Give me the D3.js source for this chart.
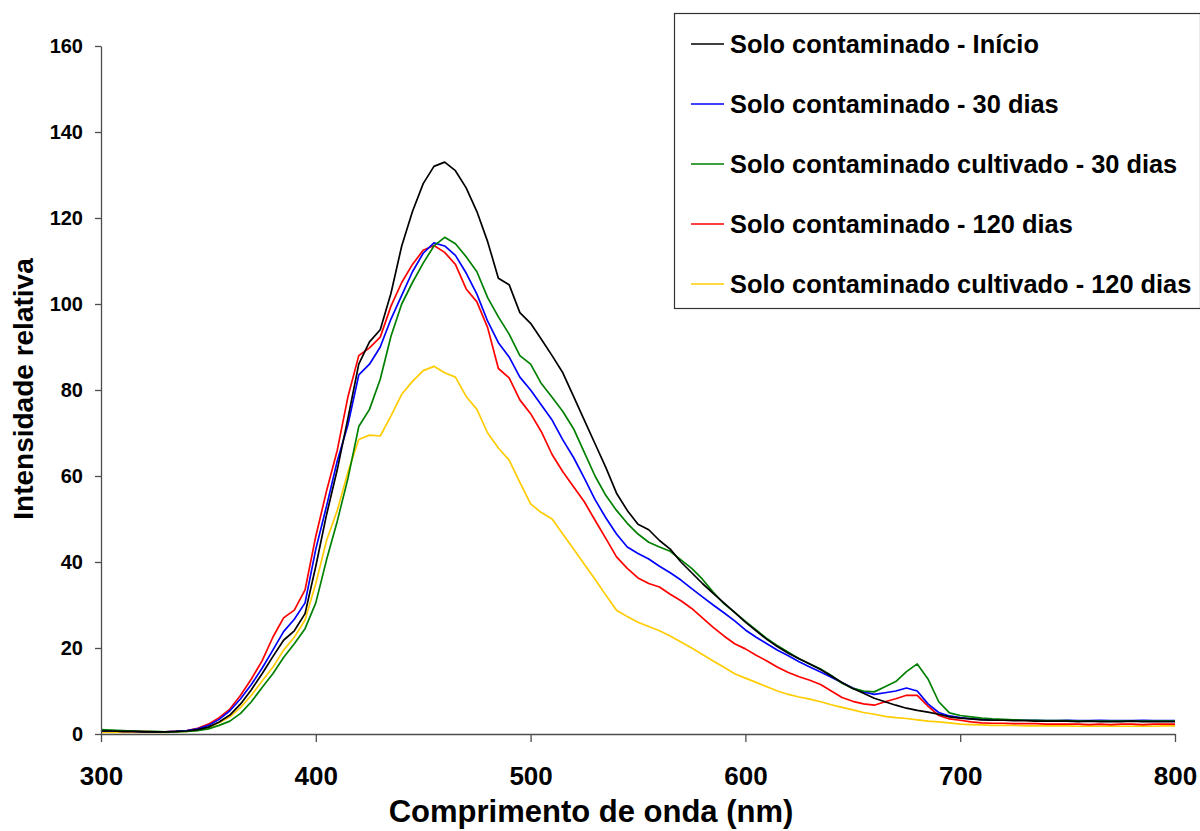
<!DOCTYPE html>
<html>
<head>
<meta charset="utf-8">
<script src="https://cdn.jsdelivr.net/npm/d3@7"></script>
<style>
  html, body { margin: 0; padding: 0; background: #fff; }
  svg { display: block; font-family: Arial, "Liberation Sans", sans-serif; font-weight: bold; }
</style>
</head>
<body>
<svg id="chart" width="1200" height="831"></svg>
<script>
const wavelengths = [
  300,305,310,315,320,325,330,335,340,345,
  350,355,360,365,370,375,380,385,390,395,
  400,405,410,415,420,425,430,435,440,445,
  450,455,460,465,470,475,480,485,490,495,
  500,505,510,515,520,525,530,535,540,545,
  550,555,560,565,570,575,580,585,590,595,
  600,605,610,615,620,625,630,635,640,645,
  650,655,660,665,670,675,680,685,690,695,
  700,705,710,715,720,725,730,735,740,745,
  750,755,760,765,770,775,780,785,790,795,
  800];

const inicio = [
  0.7,0.7,0.6,0.6,0.5,0.5,0.5,0.6,0.7,1.0,
  1.6,2.8,4.4,7.0,10.3,14.0,18.0,21.8,24.0,28.0,
  39.0,51.0,61.5,73.5,86.0,91.2,94.0,102.5,113.5,121.5,
  128.0,132.0,133.0,131.0,127.0,121.5,114.5,106.0,104.5,98.0,
  95.5,91.8,88.0,84.0,78.5,73.0,67.5,62.0,56.0,52.0,
  48.8,47.5,45.0,43.0,40.0,37.5,35.0,32.7,30.5,28.3,
  26.0,24.0,22.0,20.3,18.8,17.5,16.3,15.0,13.5,12.0,
  10.6,9.5,8.3,7.5,6.7,6.0,5.5,5.1,4.6,4.0,
  3.7,3.5,3.3,3.2,3.2,3.1,3.1,3.0,3.0,3.0,
  3.0,2.9,3.0,2.9,2.9,2.9,3.0,2.9,2.9,2.9,
  2.9];

const dias30 = [
  0.7,0.7,0.6,0.6,0.5,0.5,0.5,0.6,0.8,1.2,
  2.0,3.4,5.4,8.2,11.5,15.3,19.5,23.8,26.7,30.5,
  43.0,53.0,63.5,72.0,83.5,86.0,90.0,96.5,102.0,107.5,
  111.8,114.2,113.5,111.3,107.2,102.3,96.0,91.0,87.7,83.0,
  80.0,76.5,73.0,68.4,64.3,59.5,54.5,50.3,46.5,43.5,
  42.0,40.7,39.0,37.5,35.8,33.8,31.9,30.0,28.2,26.3,
  24.2,22.5,21.0,19.5,18.2,16.8,15.6,14.4,13.2,11.9,
  10.7,9.8,9.2,9.6,10.0,10.7,10.0,7.0,5.0,4.2,
  3.8,3.5,3.4,3.3,3.3,3.2,3.2,3.2,3.1,3.1,
  3.2,3.1,3.1,3.2,3.1,3.1,3.1,3.2,3.1,3.1,
  3.1];

const cultivado30 = [
  1.0,0.9,0.8,0.7,0.6,0.6,0.5,0.5,0.6,0.8,
  1.2,2.0,3.0,4.8,7.5,10.8,14.0,17.8,21.0,24.5,
  30.5,40.5,49.5,59.5,71.5,75.5,82.5,92.5,100.0,105.0,
  109.5,113.5,115.5,114.0,111.0,107.5,101.5,97.0,93.0,88.0,
  86.0,81.5,78.3,75.0,71.0,65.5,60.0,55.5,52.0,49.0,
  46.5,44.6,43.5,42.5,40.5,38.5,36.0,33.0,30.3,28.3,
  26.2,24.2,22.2,20.5,19.0,17.5,16.3,15.1,13.6,11.8,
  10.6,10.0,9.8,11.0,12.2,14.5,16.3,12.8,7.5,4.9,
  4.3,4.0,3.7,3.5,3.4,3.3,3.2,3.2,3.1,3.1,
  3.1,3.0,3.0,3.0,3.0,3.0,3.0,3.0,3.0,3.0,
  3.0];

const dias120 = [
  0.8,0.7,0.6,0.6,0.6,0.5,0.5,0.6,0.8,1.3,
  2.3,3.8,5.8,9.0,12.8,17.0,22.5,27.0,28.8,33.5,
  46.0,56.5,66.0,78.5,88.0,89.8,92.3,99.5,105.0,109.2,
  112.5,113.6,112.0,109.2,103.5,100.5,94.5,85.0,82.8,77.7,
  74.5,70.3,65.0,61.0,57.5,54.0,49.7,45.5,41.2,38.5,
  36.3,35.0,34.2,32.5,31.0,29.2,27.0,24.8,22.8,21.0,
  19.8,18.3,17.0,15.5,14.3,13.3,12.5,11.5,10.0,8.5,
  7.6,7.0,6.7,7.5,8.2,9.0,9.0,6.5,4.3,3.5,
  3.2,2.8,2.6,2.5,2.5,2.4,2.4,2.4,2.3,2.3,
  2.3,2.3,2.2,2.3,2.2,2.3,2.3,2.2,2.3,2.3,
  2.3];

const cultivado120 = [
  0.4,0.4,0.4,0.4,0.4,0.4,0.4,0.5,0.6,0.9,
  1.5,2.6,4.0,6.2,9.0,12.3,15.5,19.5,22.5,26.5,
  35.0,45.0,52.0,61.0,68.5,69.5,69.3,74.0,79.0,82.0,
  84.5,85.5,84.0,83.0,78.5,75.5,70.0,66.5,63.7,58.5,
  53.5,51.5,50.0,46.5,43.0,39.5,36.0,32.3,28.8,27.3,
  26.0,25.0,24.0,22.8,21.4,20.0,18.5,17.0,15.5,14.0,
  13.0,12.0,11.0,10.0,9.2,8.6,8.1,7.5,6.8,6.2,
  5.6,5.0,4.6,4.1,3.8,3.6,3.3,3.0,2.8,2.6,
  2.3,2.2,2.1,2.0,2.0,2.0,1.9,1.9,1.9,1.9,
  1.9,1.8,1.9,1.8,1.9,1.8,1.8,1.9,1.8,1.9,
  1.9];

const seriesNames = [
  "Solo contaminado - Início",
  "Solo contaminado - 30 dias",
  "Solo contaminado cultivado - 30 dias",
  "Solo contaminado - 120 dias",
  "Solo contaminado cultivado - 120 dias"
];
const seriesValues = [inicio, dias30, cultivado30, dias120, cultivado120];
const seriesColors = ["#000000", "#0000FF", "#008000", "#FF0000", "#FFCC00"];

const xTicks = [300, 400, 500, 600, 700, 800];
const yTicks = [0, 20, 40, 60, 80, 100, 120, 140, 160];

const xTitle = "Comprimento de onda (nm)";
const yTitle = "Intensidade relativa";

const svg = d3.select("#chart");
const margin = {left: 101, top: 46, right: 25, bottom: 97};
const W = 1200, H = 831;

const x = d3.scaleLinear().domain([300, 800]).range([margin.left, W - margin.right]);
const y = d3.scaleLinear().domain([0, 160]).range([H - margin.bottom, margin.top]);

const line = d3.line()
  .x((d, i) => x(wavelengths[i]))
  .y(d => y(d));

const order = [4, 3, 1, 2, 0];
svg.append("g").selectAll("path")
  .data(order)
  .join("path")
  .attr("d", k => line(seriesValues[k]))
  .attr("fill", "none")
  .attr("stroke", k => seriesColors[k])
  .attr("stroke-width", 1.7)
  .attr("stroke-linejoin", "round");

const axisColor = "#4d4d4d";
const xAxis = svg.append("g")
  .attr("transform", `translate(0,${y(0)})`)
  .call(d3.axisBottom(x).tickValues(xTicks).tickSize(8).tickSizeOuter(0).tickFormat(d3.format("d")));
xAxis.select(".domain").attr("stroke", axisColor).attr("stroke-width", 1.3);
xAxis.selectAll(".tick line").attr("stroke", axisColor).attr("stroke-width", 1.3);
xAxis.selectAll(".tick text")
  .attr("y", 51).attr("dy", null)
  .attr("fill", "#000")
  .style("font-size", "26px").style("font-weight", "bold")
  .style("font-family", "Arial, 'Liberation Sans', sans-serif");

const yAxis = svg.append("g")
  .attr("transform", `translate(${x(300)},0)`)
  .call(d3.axisLeft(y).tickValues(yTicks).tickSize(6).tickSizeOuter(0).tickFormat(d3.format("d")));
yAxis.select(".domain").attr("stroke", axisColor).attr("stroke-width", 1.3);
yAxis.selectAll(".tick line").attr("stroke", axisColor).attr("stroke-width", 1.3);
yAxis.selectAll(".tick text")
  .attr("x", -18)
  .attr("fill", "#000")
  .style("font-size", "20px").style("font-weight", "bold")
  .style("font-family", "Arial, 'Liberation Sans', sans-serif");

svg.append("text")
  .attr("x", 591).attr("y", 822)
  .attr("text-anchor", "middle")
  .style("font-size", "31px")
  .text(xTitle);

svg.append("text")
  .attr("transform", `translate(33,389) rotate(-90)`)
  .attr("text-anchor", "middle")
  .style("font-size", "28px")
  .text(yTitle);

const lg = svg.append("g");
lg.append("rect")
  .attr("x", 674.5).attr("y", 13.5)
  .attr("width", 526).attr("height", 295)
  .attr("fill", "#fff")
  .attr("stroke", "#333").attr("stroke-width", 1.2);

const items = lg.selectAll("g.item")
  .data(seriesNames)
  .join("g")
  .attr("class", "item")
  .attr("transform", (d, i) => `translate(0,${44 + i * 60})`);
items.append("line")
  .attr("x1", 691).attr("x2", 724)
  .attr("y1", 0).attr("y2", 0)
  .attr("stroke", (d, i) => seriesColors[i])
  .attr("stroke-width", 1.7);
items.append("text")
  .attr("x", 730).attr("y", 9)
  .style("font-size", "25.4px")
  .text(d => d);
</script>
</body>
</html>
